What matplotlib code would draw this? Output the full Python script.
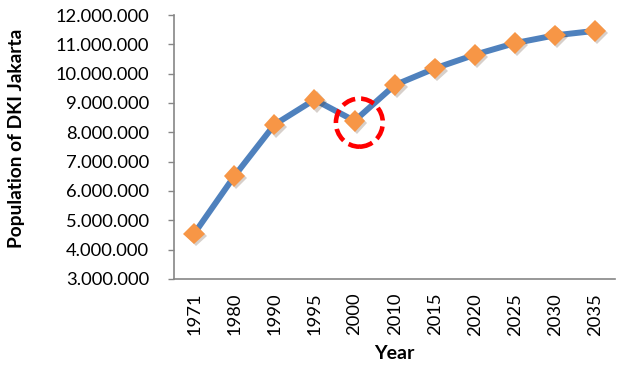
import matplotlib.pyplot as plt
import matplotlib.patheffects as pe
from matplotlib.patches import Ellipse
from matplotlib.ticker import FuncFormatter

# Population of DKI Jakarta, census years and projections
years = ['1971', '1980', '1990', '1995', '2000', '2010',
         '2015', '2020', '2025', '2030', '2035']
population = [4546492, 6503449, 8259266, 9112652, 8389443, 9607787,
              10177900, 10645000, 11041000, 11306000, 11459000]
highlight_year = '2000'

LINE_COLOR = '#4F81BD'
MARKER_COLOR = '#F79646'
AXIS_COLOR = '#868686'

plt.rcParams['font.family'] = ['Lato', 'DejaVu Sans']

fig = plt.figure(figsize=(6.2, 3.66), dpi=100)
ax = fig.add_axes([0.281, 0.238, 0.711, 0.721])

x = list(range(len(years)))
ax.plot(x, population, color=LINE_COLOR, linewidth=4.3, solid_capstyle='round',
        zorder=2)
ax.plot(x, population, linestyle='none', marker='D', markersize=11,
        color=MARKER_COLOR, markeredgewidth=0, zorder=3,
        path_effects=[pe.SimplePatchShadow(offset=(1.5, -1.5), alpha=0.22),
                      pe.Normal()])

# dashed ring around the 2000 dip
i = years.index(highlight_year)
ring = Ellipse((i + 0.12, population[i] - 6e4), width=1.17, height=1.64e6,
               fill=False, edgecolor='#FF0000', linewidth=3.3,
               linestyle=(0, (3.0, 1.3)), zorder=4)
ax.add_patch(ring)

ax.set_xlim(-0.5, len(years) - 0.5)
ax.set_ylim(3e6, 12e6)
ax.set_yticks(range(3000000, 12000001, 1000000))
ax.yaxis.set_major_formatter(FuncFormatter(lambda v, p: f'{int(v):,}'.replace(',', '.')))
ax.set_xticks(x)
ax.set_xticklabels(years, rotation=90)

for side in ('top', 'right'):
    ax.spines[side].set_visible(False)
for side in ('left', 'bottom'):
    ax.spines[side].set_color(AXIS_COLOR)
    ax.spines[side].set_linewidth(1.2)

ax.tick_params(axis='y', length=4, width=1, color=AXIS_COLOR, pad=14,
               labelsize=13.2)
ax.tick_params(axis='x', length=0, pad=10, labelsize=13.2)

ax.set_ylabel('Population of DKI Jakarta', fontsize=13.8, fontweight='bold')
ax.yaxis.set_label_coords(-0.338, 0.532)
ax.set_xlabel('Year', fontsize=14, fontweight='bold', labelpad=7)

fig.savefig('out.png', dpi=100)
